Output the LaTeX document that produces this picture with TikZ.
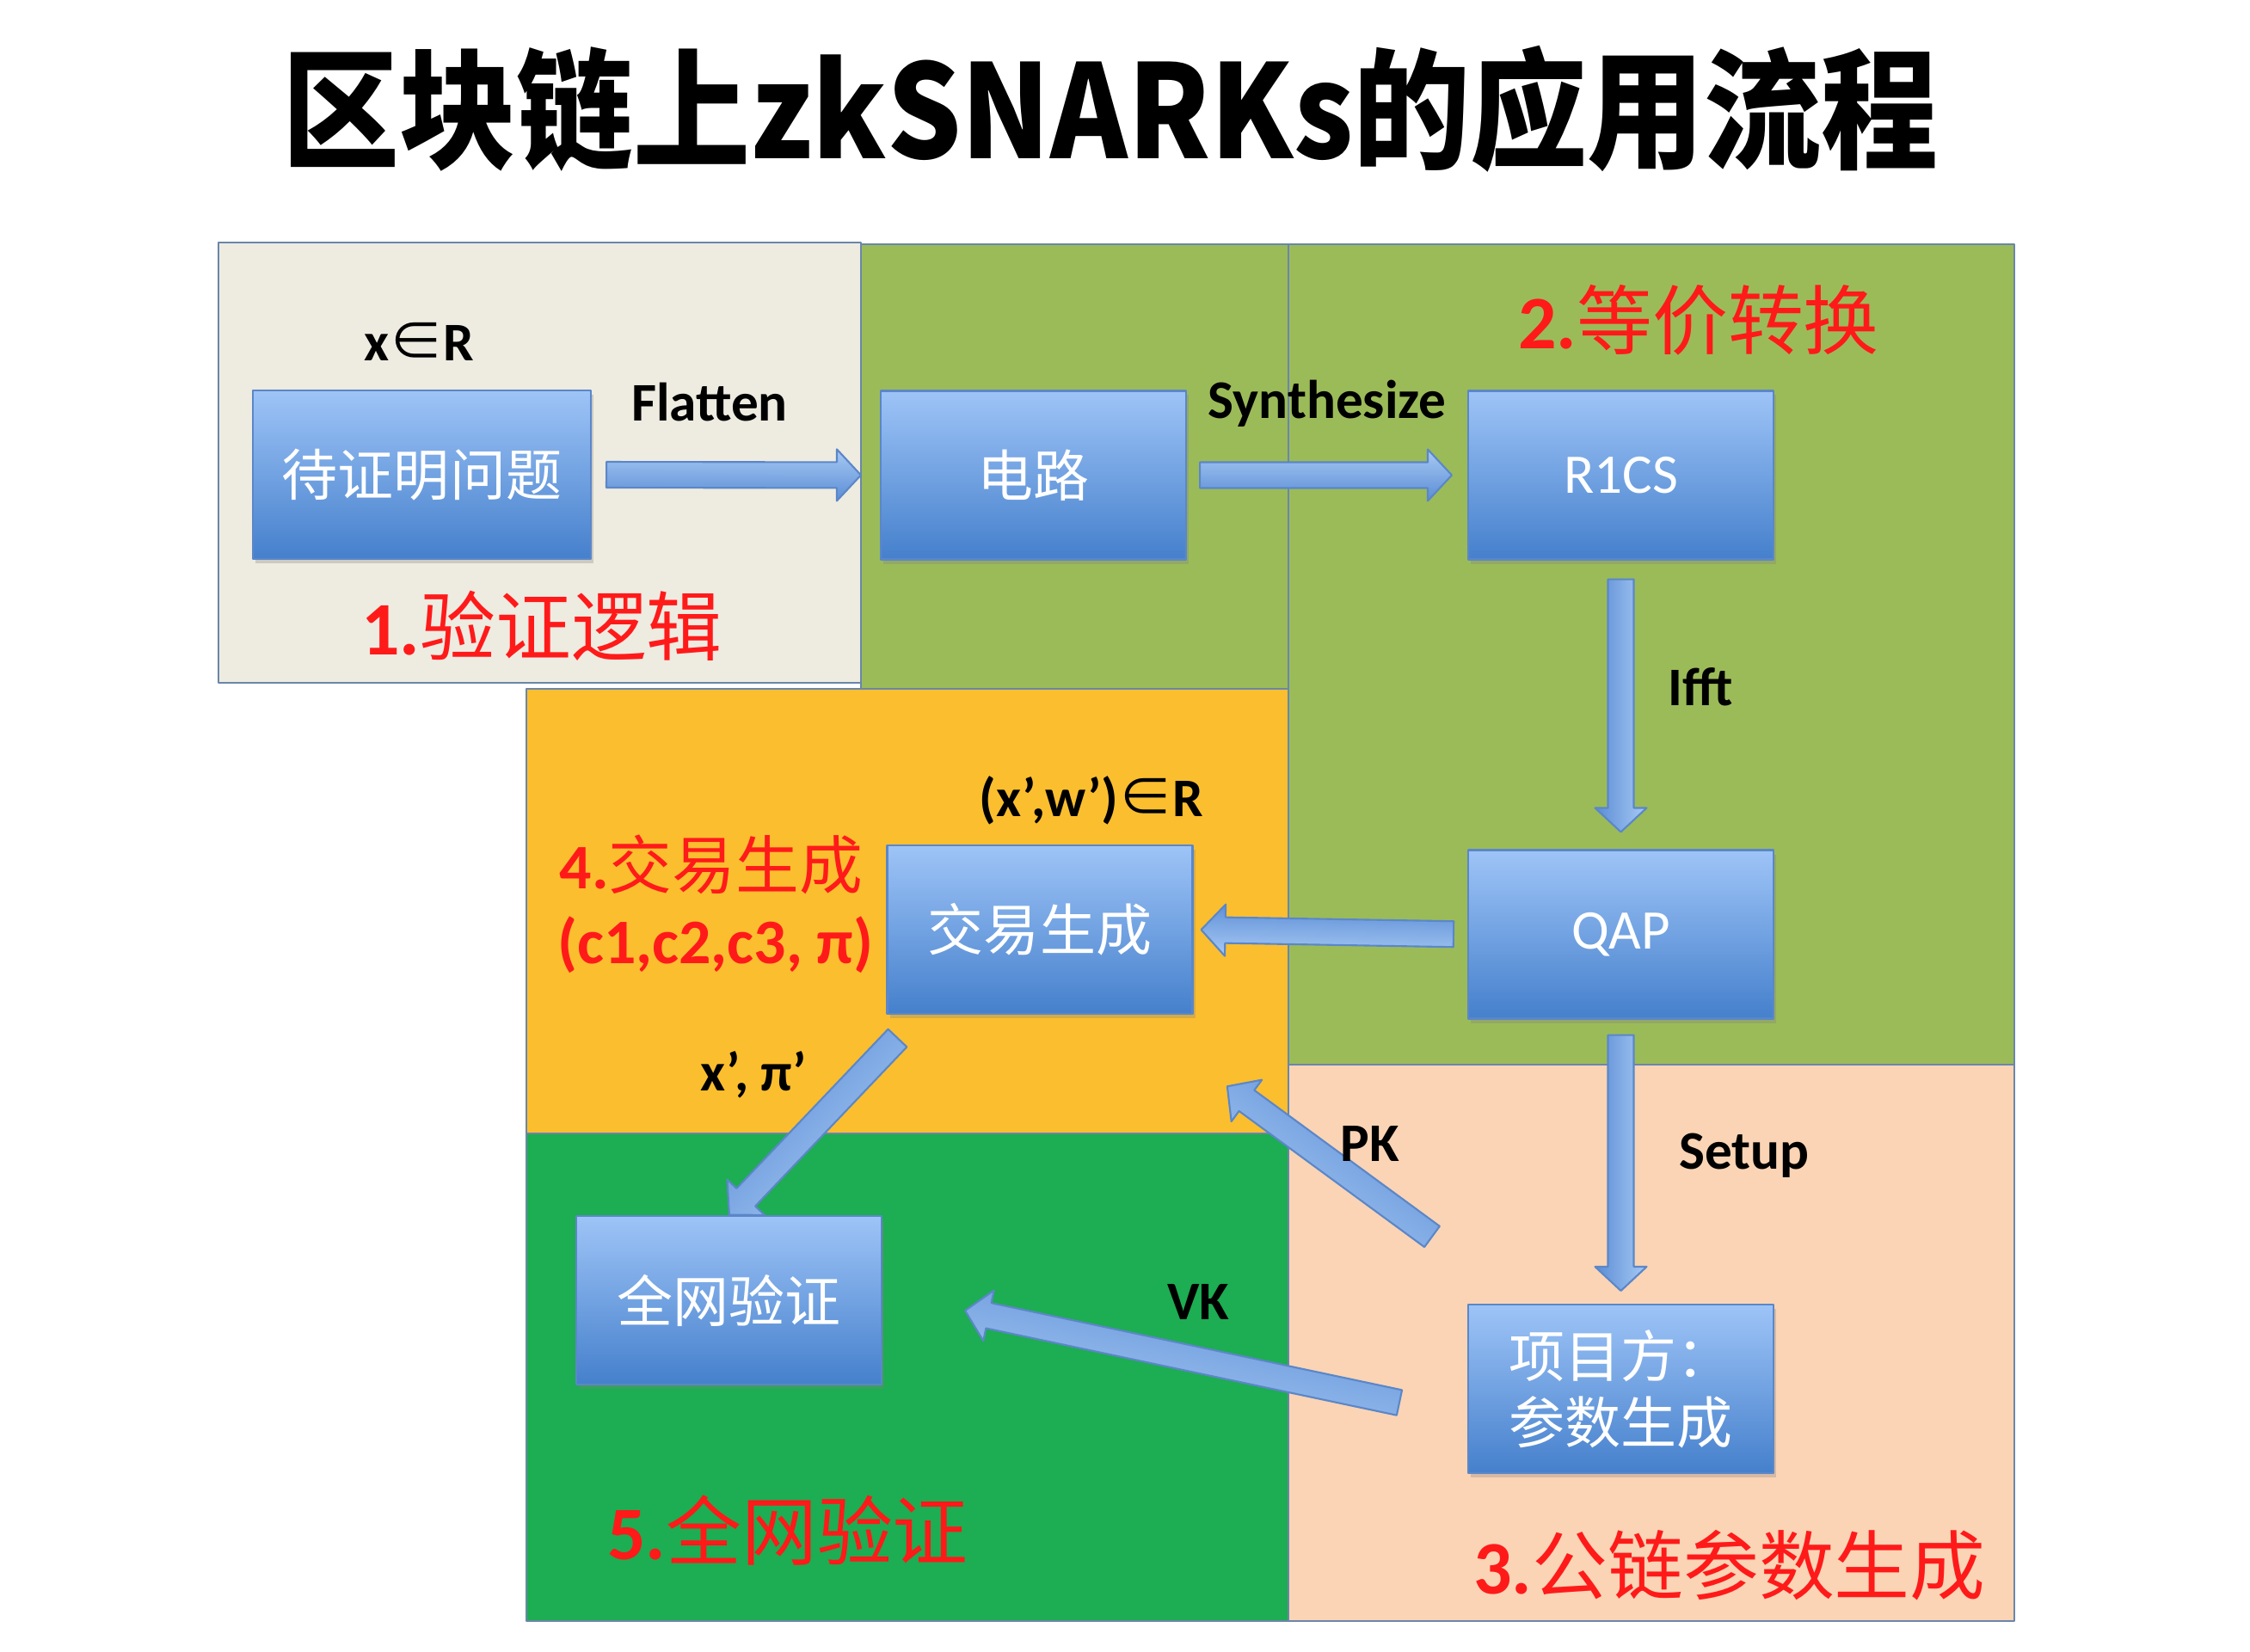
\documentclass[tikz,border=0pt]{standalone}
\usepackage{fontspec}
\setmainfont{Carlito}
\newfontfamily\cjk{Noto Sans CJK SC}
\usetikzlibrary{calc,shadows}

\definecolor{zoneA}{HTML}{EEEBE1}
\definecolor{zoneB}{HTML}{9BBB59}
\definecolor{zoneC}{HTML}{FBBE2F}
\definecolor{zoneD}{HTML}{1DAD52}
\definecolor{zoneE}{HTML}{FAD4B5}
\definecolor{zoneline}{HTML}{6A86AA}
\definecolor{boxtop}{HTML}{9EC4F7}
\definecolor{boxbot}{HTML}{4580CC}
\definecolor{boxline}{HTML}{5B87C8}
\definecolor{arrtop}{HTML}{A8CAF5}
\definecolor{arrbot}{HTML}{5A8CD4}
\definecolor{stagered}{HTML}{FF1A1A}

% block arrow: from, to, gap at start, gap at end (cm)
\newcommand{\blockarrow}[4]{%
  \path let \p1=(#1), \p2=(#2) in \pgfextra{%
    \pgfmathsetmacro\barang{atan2((\y2)-(\y1),(\x2)-(\x1))}%
    \pgfmathsetmacro\barlen{veclen((\x2)-(\x1),(\y2)-(\y1))/28.45274}%
    \xdef\barA{\barang}\xdef\barL{\barlen}\xdef\barX{\x1}\xdef\barY{\y1}};
  \begin{scope}[shift={(\barX,\barY)},rotate=\barA]
    \draw[barrow,shading angle=\barA] (#3,-0.15) -- (\barL-#4-0.28,-0.15) -- (\barL-#4-0.28,-0.3)
      -- (\barL-#4,0) -- (\barL-#4-0.28,0.3) -- (\barL-#4-0.28,0.15) -- (#3,0.15) -- cycle;
  \end{scope}}

\begin{document}
\begin{tikzpicture}[line join=round,every node/.style={inner sep=1pt},
  zone/.style={draw=zoneline,line width=0.8pt},
  box/.style={draw=boxline,line width=0.6pt,top color=boxtop,bottom color=boxbot,
    minimum width=3.55cm,minimum height=1.96cm,inner sep=0pt,text=white,
    font=\cjk\fontsize{18.5}{22}\selectfont,
    drop shadow={opacity=0.3,shadow xshift=0.03,shadow yshift=-0.05}},
  barrow/.style={draw=boxline,line width=0.6pt,top color=arrtop,bottom color=arrbot},
  lbl/.style={anchor=base,font=\bfseries\fontsize{18}{22}\selectfont},
  stage/.style={anchor=base,text=stagered,font=\fontsize{25}{30}\selectfont}]
  \useasboundingbox[fill=white] (0,0) rectangle (26.16,-19.20);

  % 标题
  \node (title) at (12.91,-1.27) {\scalebox{0.9}[1]{\cjk\bfseries\fontsize{43}{50}\selectfont 区块链上zkSNARKs的应用流程}};

  % 五个阶段的底色区域
  \filldraw[zone,fill=zoneB] (14.98,-2.84) rectangle (23.42,-12.38);
  \filldraw[zone,fill=zoneB] (10.01,-2.84) rectangle (14.98,-8.01);
  \filldraw[zone,fill=zoneA] (2.54,-2.82) rectangle (10.01,-7.94);
  \filldraw[zone,fill=zoneC] (6.12,-8.01) rectangle (14.98,-13.18);
  \filldraw[zone,fill=zoneD] (6.12,-13.18) rectangle (14.98,-18.85);
  \filldraw[zone,fill=zoneE] (14.98,-12.38) rectangle (23.42,-18.85);

  % 方框
  \node[box,minimum width=3.93cm] (goal) at (4.905,-5.52) {待证明问题};
  \node[box] (circuit) at (12.015,-5.525) {电路};
  \node[box] (r1cs) at (18.845,-5.525) {\rmfamily R1CS};
  \node[box] (qap) at (18.845,-10.865) {\rmfamily QAP};
  \node[box] (tx) at (12.09,-10.81) {交易生成};
  \node[box] (verify) at (8.475,-15.12) {全网验证};
  \node[box,align=left] (party) at (18.845,-16.15) {项目方：\\参数生成};

  % 箭头
  \blockarrow{goal.east}{circuit.west}{0.17}{0.22}
  \blockarrow{circuit.east}{r1cs.west}{0.15}{0.18}
  \blockarrow{r1cs.south}{qap.north}{0.22}{0.20}
  \blockarrow{qap.south}{party.north}{0.18}{0.15}
  \blockarrow{qap.west}{tx.east}{0.16}{0.09}
  \blockarrow{[shift={(-0.41,0.78)}]party.north west}{[shift={(0.39,-0.83)}]tx.south east}{0}{0}
  \blockarrow{[shift={(-0.79,-0.16)}]party.west}{[shift={(0.96,-0.12)}]verify.east}{0}{0}
  \blockarrow{[shift={(0.13,-0.27)}]tx.south west}{verify.north}{0}{0}

  % 箭头上的文字
  \node[lbl] (xinr) at (4.87,-4.20) {x{\mdseries\cjk ∈}R};
  \node[lbl] (flatten) at (8.25,-4.89) {Flatten};
  \node[lbl] (synth) at (15.43,-4.86) {Synthesize};
  \node[lbl] (ifft) at (19.77,-8.20) {Ifft};
  \node[lbl] (setup) at (20.28,-13.59) {Setup};
  \node[lbl] (pk) at (15.93,-13.50) {PK};
  \node[lbl] (vk) at (13.93,-15.34) {VK};
  \node[lbl] (xpi) at (8.76,-12.68) {x’, π’};
  \node[lbl] (xwinr) at (12.69,-9.49) {(x’,w’){\mdseries\cjk ∈}R};

  % 阶段名称
  \node[stage] (s1) at (6.30,-7.61) {\bfseries 1.{\mdseries\cjk 验证逻辑}};
  \node[stage] (s2) at (19.75,-4.05) {\bfseries 2.{\mdseries\cjk 等价转换}};
  \node[stage] (s3) at (20.11,-18.53) {\bfseries 3.{\mdseries\cjk 公链参数生成}};
  \node[stage,font=\fontsize{21}{25}\selectfont] (s4) at (8.27,-10.33) {\bfseries 4.{\mdseries\cjk 交易生成}};
  \node[stage,font=\fontsize{21}{25}\selectfont] (s4b) at (8.32,-11.20) {\bfseries (c1,c2,c3, π)};
  \node[stage] (s5) at (9.16,-18.13) {\bfseries 5.{\mdseries\cjk 全网验证}};
\end{tikzpicture}
\end{document}
